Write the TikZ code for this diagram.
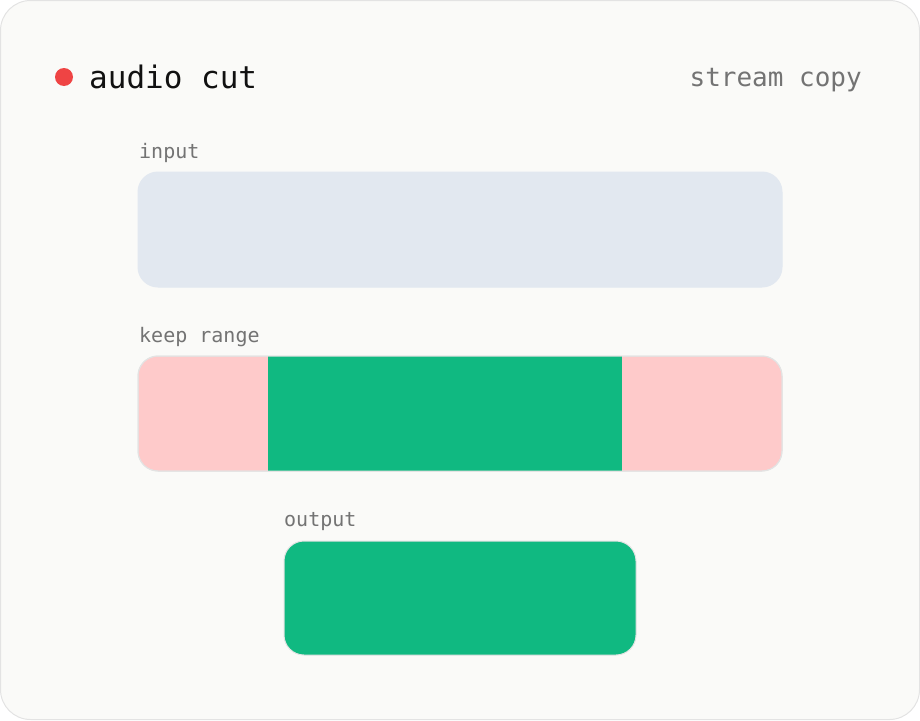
\documentclass[tikz,border=0pt]{standalone}
\usepackage{fontspec}
\setmonofont{DejaVu Sans Mono}
\usepackage{xcolor}
\definecolor{card}{HTML}{FAFAF8}
\definecolor{edge}{HTML}{E3E3E3}
\definecolor{slate}{HTML}{E2E8F0}
\definecolor{pinkcut}{HTML}{FECACA}
\definecolor{keepgreen}{HTML}{10B981}
\definecolor{dotred}{HTML}{EF4444}
\definecolor{labelgray}{HTML}{737373}
\definecolor{ink}{HTML}{111111}

\begin{document}
\begin{tikzpicture}[x=1pt, y=-1pt, bar/.style={rectangle, rounded corners=20pt, draw=edge, line width=1pt, minimum width=644pt, minimum height=115pt, inner sep=0pt}, label/.style={anchor=base west, inner sep=0pt, text=labelgray, font=\ttfamily\fontsize{20}{24}\selectfont}]
\useasboundingbox (0,0) rectangle (920,720);
\draw [fill=card, draw=edge, line width=1pt, rounded corners=30pt] (0.5,0.5) rectangle (919.5,719.5);
% header
\node[circle, fill=dotred, minimum size=18pt, inner sep=0pt] (dot) at (64,77) {};
\node[anchor=base west, inner sep=0pt, text=ink, font=\ttfamily\fontsize{31}{36}\selectfont] (title) at (89,88) {audio cut};
\node[anchor=base east, inner sep=0pt, text=labelgray, font=\ttfamily\fontsize{26}{30}\selectfont] (mode) at (862,86) {stream copy};
% input
\node[label] (inlabel) at (139,158) {input};
\node[bar, fill=slate, draw=slate] (in) at (460,229.5) {};
% keep range
\node[label] (keeplabel) at (139,342) {keep range};
\node[bar, fill=pinkcut] (keep) at (460,413.5) {};
\fill[keepgreen] (268,356) rectangle (622,471);
\node[bar, draw=edge] (keepedge) at (460,413.5) {};
% output
\node[label] (outlabel) at (284,526) {output};
\node[bar, fill=keepgreen, minimum width=352pt, minimum height=114pt] (out) at (460,598) {};
\end{tikzpicture}
\end{document}
